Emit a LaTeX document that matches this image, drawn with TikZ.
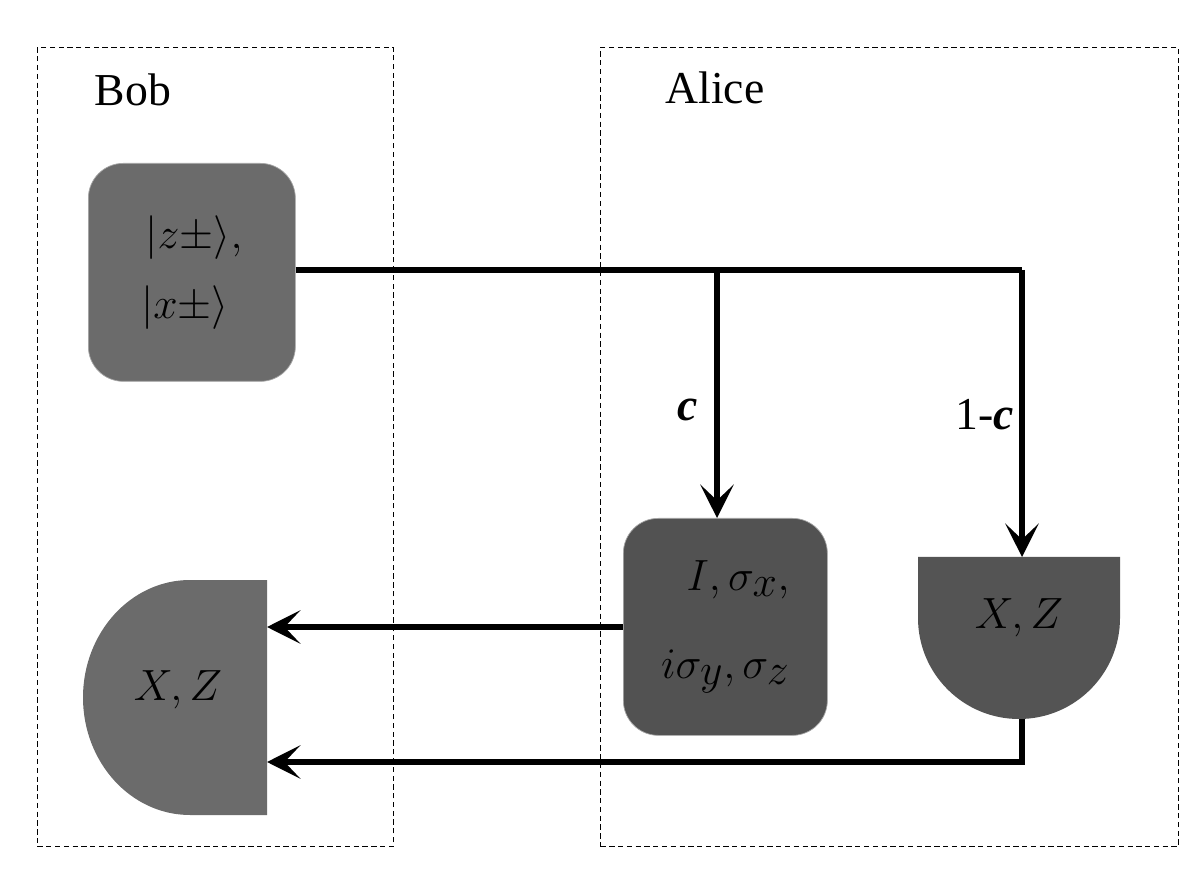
\documentclass[tikz,border=0pt]{standalone}
\usepackage{fontspec}
\setmainfont{Liberation Serif}
\usetikzlibrary{arrows.meta}
\begin{document}
\begin{tikzpicture}[x=0.02cm,y=-0.02cm,
  frame/.style={draw,densely dashed,line width=0.5pt},
  conn/.style={line width=3.4pt},
  arr/.style={conn,-{Stealth[length=19pt,width=19pt,inset=9pt]}},
  lbl/.style={font=\fontsize{26}{30}\selectfont},
  big/.style={font=\fontsize{42}{48}\selectfont}]
\useasboundingbox (0,0) rectangle (1196,884);
\node[frame,minimum width=356*0.02cm,minimum height=799*0.02cm,anchor=north west] (bob) at (37,47) {};
\node[frame,minimum width=578*0.02cm,minimum height=799*0.02cm,anchor=north west] (alice) at (600,47) {};
\node[lbl] (bl) at (133,90) {Bob};
\node[lbl] (al) at (715,88) {Alice};
\node[draw=gray!70,fill=black!58,rounded corners=0.7cm,minimum width=207*0.02cm,minimum height=218*0.02cm,anchor=north west,align=right,font=\fontsize{31}{40}\selectfont] (src) at (88,163) {$|z\pm\rangle,$\\$|x\pm\rangle\ $};
\node[draw=gray!70,fill=black!68,rounded corners=0.7cm,minimum width=204*0.02cm,minimum height=217*0.02cm,anchor=north west,align=right,font=\fontsize{37}{50}\selectfont] (pauli) at (623,518) {$I,\sigma_x,$\\$i\sigma_y,\sigma_z$};
\coordinate (j1) at (717,270);
\coordinate (j2) at (1022,270);
\coordinate (adtop) at (1022,557);
\coordinate (adbot) at (1022,719);
\coordinate (c1) at (1022,762);
\coordinate (bdin1) at (267,627);
\coordinate (bdin2) at (267,762);
\fill[black!67] (918,557) -- (1120,557) -- (1120,618) arc[start angle=0,end angle=180,x radius=101,y radius=101] -- cycle;
\node[big] (adl) at (1019,618) {$X,Z$};
\fill[black!58] (267,580) -- (190,580) arc[start angle=90,end angle=270,x radius=107,y radius=-117.5] -- (267,815) -- cycle;
\node[big] (bdl) at (178,690) {$X,Z$};
\draw[conn] (src.east|-j1) -- (j2);
\draw[arr] (j1) -- (pauli.north -| j1);
\draw[arr] (j2) -- (adtop);
\draw[arr] (pauli.west|-bdin1) -- (bdin1);
\draw[arr] (adbot) -- (c1) -- (bdin2);
\node[lbl] (cl) at (688,410) {\textbf{\textit{c}}};
\node[lbl] (cl2) at (985,415) {1-\textbf{\textit{c}}};
\end{tikzpicture}
\end{document}
